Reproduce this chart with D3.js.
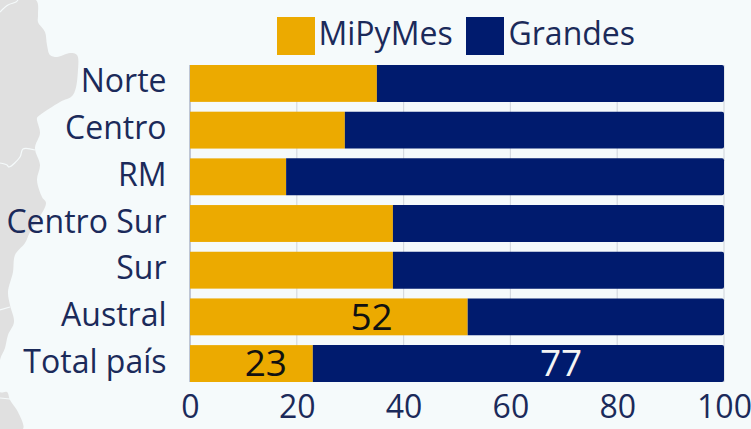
<!DOCTYPE html>
<html><head><meta charset="utf-8">
<script src="https://cdn.jsdelivr.net/npm/d3@7"></script>
<style>html,body{margin:0;padding:0;background:#f5fafb}svg{display:block}text{font-family:"Open Sans",sans-serif}</style>
</head><body><svg id="c" width="751" height="429"></svg>
<script>
const categories=["Norte","Centro","RM","Centro Sur","Sur","Austral","Total país"];
const mipymes=[35,29,18,38,38,52,23];
const grandes=[65,71,82,62,62,48,77];
const valueLabels=[["Austral",52,34,"#111"],["Total país",23,14.2,"#111"],["Total país",77,69.5,"#f5f5f5"]];
const ticks=[0,20,40,60,80,100];
const seriesNames=["MiPyMes","Grandes"];
const colors=["#ecaa00","#001b6e"];
const ink="#1b2a5a";

const svg=d3.select("#c");
svg.append("rect").attr("width",751).attr("height",429).attr("fill","#f5fafb");

// decorative map silhouette
const coast=[[0,0],[36,0],[38,15],[38,22],[45,32],[47,45],[50,55],[57,57],[70,53],[77,55],[78,70],[73,95],[60,102],[40,115],[37,118],[40,133],[35,148],[40,165],[37,180],[42,197],[46,203],[30,232],[25,243],[15,255],[13,272],[8,292],[10,305],[14,322],[8,335],[5,348],[0,360],[0,392],[7,392],[10,400],[18,412],[23,429],[0,429]];
const curve=d3.line().curve(d3.curveCatmullRom.alpha(0.5));
svg.append("path").attr("d",curve(coast)+"Z").attr("fill","#e0e0e0");
[[[0,12],[8,5],[16,2],[18,0]],[[0,163],[7,165],[9,167],[20,157],[23,149],[35,150]],[[0,310],[10,307]],[[0,398],[10,399]]]
 .forEach(b=>svg.append("path").attr("d",curve(b)).attr("fill","none").attr("stroke","#f5fafb").attr("stroke-width",1.2));

const x=d3.scaleLinear().domain([0,100]).range([190,724]);
const y=d3.scaleBand().domain(categories).range([65,382]).paddingInner(0.21);

// gridlines
svg.append("g").selectAll("line").data(ticks).join("line")
 .attr("x1",d=>x(d)).attr("x2",d=>x(d)).attr("y1",65).attr("y2",382)
 .attr("stroke",d=>d===0?"#9aa3bd":"#d5dae0").attr("stroke-width",1.2);

// bars
svg.append("g").selectAll("rect").data(categories).join("rect")
 .attr("x",x(0)).attr("y",d=>y(d)).attr("height",y.bandwidth())
 .attr("width",(d,i)=>x(mipymes[i])-x(0)).attr("fill",colors[0]);
const r=2;
svg.append("g").selectAll("path").data(categories).join("path")
 .attr("fill",colors[1])
 .attr("d",(d,i)=>{
   const a=x(mipymes[i]),b=x(mipymes[i]+grandes[i]),t=y(d),h=y.bandwidth();
   const p=d3.path();
   p.moveTo(a,t);p.lineTo(b-r,t);p.arcTo(b,t,b,t+r,r);p.lineTo(b,t+h-r);p.arcTo(b,t+h,b-r,t+h,r);p.lineTo(a,t+h);p.closePath();
   return p.toString();
 });

// data labels
svg.append("g").selectAll("text").data(valueLabels).join("text")
 .attr("x",d=>x(d[2])).attr("y",d=>y(d[0])+y.bandwidth()/2-0.5).attr("dy","0.36em")
 .attr("text-anchor","middle").attr("font-size",37).attr("fill",d=>d[3]).text(d=>d[1]);

// category labels
svg.append("g").selectAll("text").data(categories).join("text")
 .attr("x",166.5).attr("y",d=>y(d)+y.bandwidth()/2-2.5).attr("dy","0.36em")
 .attr("text-anchor","end").attr("font-size",32).attr("fill",ink).text(d=>d);

// x axis
const ax=svg.append("g").attr("transform","translate(0,382)")
 .call(d3.axisBottom(x).tickValues(ticks).tickSize(0).tickPadding(13));
ax.select(".domain").remove();
ax.selectAll("text").attr("font-size",32).attr("fill",ink).style("font-family",'"Open Sans",sans-serif');

// legend
const lx=[277,466],tx=[318.5,508.5];
seriesNames.forEach((n,i)=>{
  svg.append("rect").attr("x",lx[i]).attr("y",17).attr("width",38).attr("height",38).attr("fill",colors[i]);
  svg.append("text").attr("x",tx[i]).attr("y",33).attr("dy","0.36em").attr("font-size",32).attr("fill",ink).text(n);
});
</script></body></html>
